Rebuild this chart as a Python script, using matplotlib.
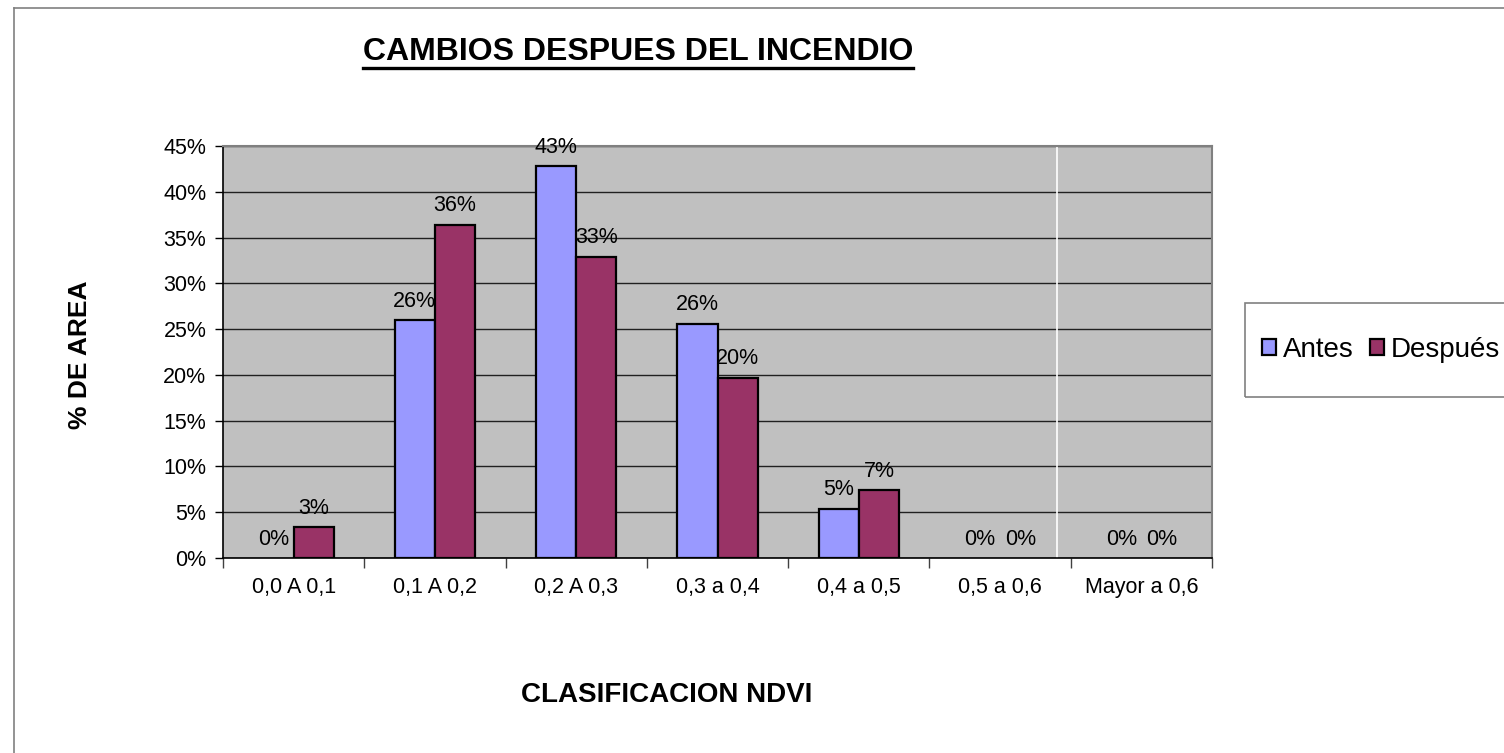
import numpy as np
import matplotlib
matplotlib.use('Agg')
import matplotlib.pyplot as plt
from matplotlib.lines import Line2D
from matplotlib.patches import Patch, Rectangle
from matplotlib.ticker import FixedLocator, PercentFormatter

plt.rcParams['font.family'] = ['Liberation Sans', 'DejaVu Sans']

categorias = ['0,0 A 0,1', '0,1 A 0,2', '0,2 A 0,3', '0,3 a 0,4',
              '0,4 a 0,5', '0,5 a 0,6', 'Mayor a 0,6']
antes = [0.0, 0.260, 0.428, 0.256, 0.054, 0.0, 0.0]
despues = [0.034, 0.364, 0.329, 0.197, 0.074, 0.0, 0.0]

color_antes = '#9999FF'
color_despues = '#993366'

fig = plt.figure(figsize=(15.04, 7.53), dpi=100)
ax = fig.add_axes([223/1504, 1-558/753, (1212-223)/1504, (558-146)/753])
ax.set_facecolor('#C0C0C0')

x = np.arange(len(categorias))
w = 0.285
lw_a = [0 if v == 0 else 1.6 for v in antes]
lw_d = [0 if v == 0 else 1.6 for v in despues]
b1 = ax.bar(x - w/2, antes, w, color=color_antes, edgecolor='black',
            linewidth=lw_a, zorder=3)
b2 = ax.bar(x + w/2, despues, w, color=color_despues, edgecolor='black',
            linewidth=lw_d, zorder=3)

for barras in (b1, b2):
    for b in barras:
        v = b.get_height()
        ax.annotate('%d%%' % round(v*100), (b.get_x() + b.get_width()/2, v),
                    xytext=(0, 6), textcoords='offset points',
                    ha='center', va='bottom', fontsize=15.5, zorder=4)

ax.set_ylim(0, 0.45)
ax.set_xlim(-0.5, len(categorias) - 0.5)
ax.yaxis.set_major_locator(FixedLocator(np.arange(0, 0.451, 0.05)))
ax.yaxis.set_major_formatter(PercentFormatter(1.0, decimals=0))
ax.grid(axis='y', color='#202020', linewidth=1.0, zorder=1)
ax.axvline(5.4, color='white', linewidth=1.2, zorder=2)

ax.set_xticks(x)
ax.set_xticklabels(categorias)
ax.set_xticks(np.arange(-0.5, len(categorias)), minor=True)
ax.tick_params(axis='x', which='major', length=0, pad=14, labelsize=15.5)
ax.tick_params(axis='x', which='minor', length=7, width=1, color='#404040')
ax.tick_params(axis='y', length=6, width=1, pad=6, labelsize=15.5)

for s in ['top', 'right']:
    ax.spines[s].set_color('#808080')
    ax.spines[s].set_linewidth(1.5)
for s in ['left', 'bottom']:
    ax.spines[s].set_color('black')
    ax.spines[s].set_linewidth(1.2)

# leyenda
h_antes = Patch(facecolor=color_antes, edgecolor='black', linewidth=1.6)
h_desp = Patch(facecolor=color_despues, edgecolor='black', linewidth=1.6)
fig.legend(handles=[h_antes, h_desp], labels=['Antes', 'Después'],
           loc='center left', bbox_to_anchor=(1262/1504, 1-350/753), ncol=2,
           fontsize=20, frameon=False, borderpad=0, borderaxespad=0,
           handlelength=0.5, handleheight=0.5, handletextpad=0.25,
           columnspacing=0.58)
fig.add_artist(Rectangle((1245/1504, 1-397/753), 0.2, 94/753,
                         transform=fig.transFigure, facecolor='none',
                         edgecolor='#808080', linewidth=1.2))

tit = fig.text(638/1504, 1-52/753, 'CAMBIOS DESPUES DEL INCENDIO',
               ha='center', va='center', fontsize=23, fontweight='bold')
fig.text(80/1504, 1-355/753, '% DE AREA', rotation=90, ha='center',
         va='center', fontsize=19, fontweight='bold')
fig.text(667/1504, 1-695/753, 'CLASIFICACION NDVI', ha='center',
         va='center', fontsize=20, fontweight='bold')

# subrayado del titulo
fig.canvas.draw()
bb = tit.get_window_extent()
fw, fh = fig.bbox.width, fig.bbox.height
yl = (bb.y0 - 1) / fh
fig.add_artist(Line2D([bb.x0/fw, bb.x1/fw], [yl, yl], color='black',
                      linewidth=2.4, transform=fig.transFigure))

# marco del grafico
fig.add_artist(Line2D([14/1504, 14/1504], [0, 1-8/753], color='#808080',
                      linewidth=1.2, transform=fig.transFigure))
fig.add_artist(Line2D([14/1504, 1], [1-8/753, 1-8/753], color='#808080',
                      linewidth=1.2, transform=fig.transFigure))

fig.savefig('out.png', dpi=100)
